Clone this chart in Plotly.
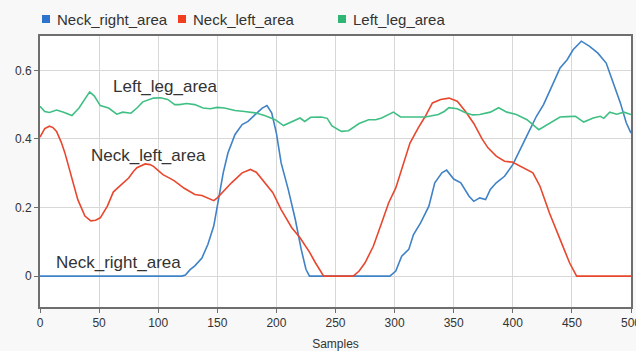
import plotly.graph_objects as go

# Neck_right_area samples (sample index, area)
right_x = [0, 120, 123, 127, 131, 137, 142, 147, 151, 155, 159, 165, 171, 176, 182, 188, 192,
           196, 200, 204, 210, 216, 221, 225, 228, 296, 301, 306, 312, 316, 322, 329, 334,
           340, 344, 350, 356, 363, 367, 372, 377, 381, 386, 393, 400, 406, 413, 420, 426,
           433, 440, 446, 451, 458, 465, 472, 479, 485, 491, 496, 500]
right_y = [0, 0, 0.003, 0.019, 0.03, 0.053, 0.092, 0.146, 0.223, 0.301, 0.359, 0.413, 0.442,
           0.451, 0.471, 0.49, 0.497, 0.476, 0.417, 0.33, 0.253, 0.165, 0.078, 0.02, 0, 0,
           0.015, 0.058, 0.078, 0.121, 0.155, 0.204, 0.272, 0.301, 0.309, 0.283, 0.272, 0.233,
           0.218, 0.228, 0.223, 0.253, 0.272, 0.291, 0.325, 0.369, 0.417, 0.466, 0.50, 0.553,
           0.607, 0.631, 0.66, 0.685, 0.67, 0.65, 0.621, 0.563, 0.505, 0.447, 0.417]

# Neck_left_area samples
left_x = [0, 4, 8, 11, 14, 18, 21, 26, 32, 38, 43, 47, 51, 57, 62, 66, 70, 75, 79, 82, 89,
          93, 96, 104, 110, 114, 122, 131, 137, 142, 147, 150, 154, 162, 171, 178, 183, 190,
          197, 204, 209, 213, 220, 224, 228, 233, 240, 265, 270, 275, 282, 289, 295, 301,
          306, 313, 320, 326, 332, 339, 346, 353, 360, 367, 374, 379, 386, 393, 400, 409,
          417, 423, 431, 440, 448, 454, 500]
left_y = [0.405, 0.43, 0.437, 0.433, 0.422, 0.39, 0.36, 0.295, 0.223, 0.175, 0.161, 0.163,
          0.17, 0.204, 0.245, 0.258, 0.27, 0.286, 0.305, 0.316, 0.327, 0.325, 0.32, 0.296,
          0.285, 0.277, 0.256, 0.238, 0.235, 0.228, 0.22, 0.228, 0.243, 0.272, 0.301, 0.311,
          0.303, 0.272, 0.243, 0.194, 0.165, 0.141, 0.112, 0.092, 0.07, 0.039, 0.0, 0.0,
          0.015, 0.039, 0.087, 0.155, 0.214, 0.257, 0.311, 0.388, 0.432, 0.466, 0.505, 0.515,
          0.519, 0.51, 0.48, 0.445, 0.40, 0.374, 0.35, 0.335, 0.332, 0.316, 0.301, 0.262,
          0.184, 0.107, 0.039, 0.0, 0.0]

# Left_leg_area samples
leg_x = [0, 4, 8, 14, 20, 27, 33, 38, 42, 46, 51, 58, 65, 70, 77, 82, 87, 96, 102, 108, 114,
         118, 124, 131, 138, 144, 150, 156, 165, 173, 182, 190, 199, 206, 213, 220, 224, 229,
         238, 243, 247, 255, 261, 270, 278, 284, 289, 295, 299, 305, 315, 326, 337, 342, 346,
         353, 360, 366, 372, 381, 388, 395, 403, 412, 422, 429, 436, 440, 446, 453, 460, 468,
         474, 477, 482, 488, 494, 500]
leg_y = [0.495, 0.48, 0.477, 0.484, 0.478, 0.468, 0.49, 0.515, 0.537, 0.525, 0.497, 0.49,
         0.472, 0.478, 0.475, 0.49, 0.508, 0.519, 0.52, 0.515, 0.50, 0.50, 0.503, 0.50, 0.49,
         0.488, 0.492, 0.49, 0.483, 0.48, 0.476, 0.468, 0.456, 0.439, 0.449, 0.461, 0.451,
         0.463, 0.464, 0.46, 0.438, 0.422, 0.424, 0.445, 0.456, 0.456, 0.461, 0.47, 0.478,
         0.464, 0.464, 0.464, 0.471, 0.48, 0.491, 0.488, 0.476, 0.47, 0.471, 0.478, 0.491,
         0.478, 0.471, 0.456, 0.427, 0.442, 0.456, 0.464, 0.465, 0.466, 0.449, 0.461, 0.466,
         0.46, 0.478, 0.472, 0.478, 0.471]

series = [
    ("Neck_right_area", right_x, right_y, "#3f82c6", "#2f74cc"),
    ("Neck_left_area", left_x, left_y, "#e8472e", "#f23d1e"),
    ("Left_leg_area", leg_x, leg_y, "#40bf84", "#2fb574"),
]

# in-plot labels: (text, sample, value)
labels = [
    ("Left_leg_area", 106, 0.553),
    ("Neck_left_area", 92, 0.352),
    ("Neck_right_area", 66, 0.041),
]

# key entries across the top: left edge of each swatch, in paper fraction
key_left = [0.0034, 0.2335, 0.5042]

FONT = "Liberation Sans, Arial, Helvetica, sans-serif"

fig = go.Figure()
for name, xs, ys, line_color, key_color in series:
    fig.add_trace(go.Scatter(x=xs, y=ys, mode="lines", name=name, showlegend=False,
                             line=dict(color=line_color, width=1.6)))

for text, sx, sy in labels:
    fig.add_annotation(x=sx, y=sy, text=text, showarrow=False,
                       font=dict(family=FONT, size=17, color="#333333"))

# key: coloured square + series name
sw_w, sw_h, key_y = 8 / 591, 8 / 271, 1.0627
for (name, xs, ys, line_color, key_color), kx in zip(series, key_left):
    fig.add_shape(type="rect", xref="paper", yref="paper",
                  x0=kx, x1=kx + sw_w, y0=key_y - sw_h / 2, y1=key_y + sw_h / 2,
                  fillcolor=key_color, line=dict(width=0))
    fig.add_annotation(xref="paper", yref="paper", x=kx + sw_w + 5 / 591, y=key_y,
                       xanchor="left", yanchor="middle", text=name, showarrow=False,
                       font=dict(family=FONT, size=15, color="#333333"))

fig.update_layout(
    width=636, height=351,
    margin=dict(l=40, r=5, t=36, b=44, autoexpand=False),
    paper_bgcolor="#f8f8f8",
    plot_bgcolor="#ffffff",
    font=dict(family=FONT, size=12, color="#333333"),
    showlegend=False,
)
fig.update_xaxes(
    range=[0, 500], tickvals=[0, 50, 100, 150, 200, 250, 300, 350, 400, 450, 500],
    automargin=True, ticklabeloverflow="allow",
    showgrid=True, gridcolor="#d8d8d8", gridwidth=1, zeroline=False,
    showline=True, linecolor="#6e6e6e", linewidth=2, mirror=True,
    ticks="outside", ticklen=4, tickcolor="#6e6e6e",
    title=dict(text="Samples", font=dict(size=12, color="#333333"), standoff=14),
)
fig.update_yaxes(
    range=[-0.09, 0.7], tickvals=[0, 0.2, 0.4, 0.6], ticktext=["0", "0.2", "0.4", "0.6"],
    automargin=False,
    showgrid=True, gridcolor="#d8d8d8", gridwidth=1, zeroline=False,
    showline=True, linecolor="#6e6e6e", linewidth=2, mirror=True,
    ticks="outside", ticklen=4, tickcolor="#6e6e6e",
)

fig.write_html("out.html")
